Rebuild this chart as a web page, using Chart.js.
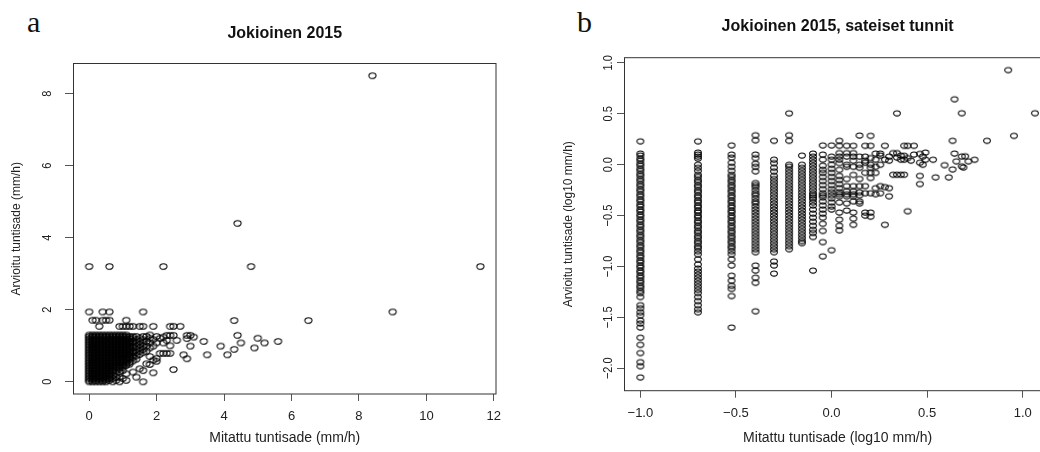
<!DOCTYPE html>
<html>
<head>
<meta charset="utf-8">
<script src="https://cdn.jsdelivr.net/npm/chart.js@4/dist/chart.umd.min.js"></script>
<style>
  body { margin: 0; background: #fff; }
  #wrap { position: relative; width: 1040px; height: 452px; overflow: hidden; background: #fff; }
  .tag { position: absolute; top: 7px; font: 30px/30px "Liberation Serif", "Times New Roman", serif; color: #111; }
  .panel { position: absolute; top: 0; }
</style>
</head>
<body>
<div id="wrap">
  <div class="tag" style="left:27px">a</div>
  <div class="tag" style="left:577px">b</div>
  <div class="panel" style="left:0"><canvas id="chartA" width="520" height="452"></canvas></div>
  <div class="panel" style="left:520px"><canvas id="chartB" width="560" height="452"></canvas></div>
</div>
<script>
// ---- Panel a: measured vs estimated hourly rain (mm/h), one list of estimates per measured value
const aMeasured = [0, 0.1, 0.2, 0.3, 0.4, 0.5, 0.6, 0.7, 0.8, 0.9, 1.0, 1.1, 1.2, 1.3, 1.4, 1.5, 1.6, 1.7, 1.8, 1.9,
  2.0, 2.1, 2.2, 2.3, 2.4, 2.5, 2.6, 2.7, 2.8, 2.9, 3.0, 3.1, 3.4, 3.5, 3.9, 4.1, 4.3, 4.4, 4.5, 4.8, 4.9, 5.0, 5.2, 5.6, 6.5, 8.4, 9.0, 11.6];
const aEstimated = [
  [0, 0.04, 0.09, 0.13, 0.18, 0.22, 0.27, 0.31, 0.36, 0.4, 0.45, 0.49, 0.54, 0.58, 0.63, 0.67, 0.72, 0.76, 0.81, 0.85, 0.9, 0.94, 0.99, 1.03, 1.08, 1.12, 1.17, 1.21, 1.26, 1.3, 1.94, 3.2],
  [0, 0.05, 0.09, 0.14, 0.18, 0.23, 0.27, 0.32, 0.36, 0.41, 0.45, 0.5, 0.54, 0.59, 0.63, 0.68, 0.72, 0.77, 0.81, 0.86, 0.9, 0.95, 0.99, 1.04, 1.08, 1.13, 1.17, 1.22, 1.26, 1.3, 1.71],
  [0, 0.04, 0.09, 0.13, 0.18, 0.22, 0.27, 0.31, 0.36, 0.4, 0.45, 0.49, 0.54, 0.58, 0.63, 0.67, 0.72, 0.76, 0.81, 0.85, 0.9, 0.94, 0.99, 1.03, 1.08, 1.12, 1.17, 1.21, 1.26, 1.3, 1.71],
  [0, 0.05, 0.09, 0.14, 0.18, 0.23, 0.27, 0.32, 0.36, 0.41, 0.45, 0.5, 0.54, 0.59, 0.63, 0.68, 0.72, 0.77, 0.81, 0.86, 0.9, 0.95, 0.99, 1.04, 1.08, 1.13, 1.17, 1.22, 1.26, 1.3, 1.54],
  [0, 0.04, 0.09, 0.13, 0.18, 0.22, 0.27, 0.31, 0.36, 0.4, 0.45, 0.49, 0.54, 0.58, 0.63, 0.67, 0.72, 0.76, 0.81, 0.85, 0.9, 0.94, 0.99, 1.03, 1.08, 1.12, 1.17, 1.21, 1.26, 1.3, 1.71, 1.94],
  [0, 0.05, 0.09, 0.14, 0.18, 0.23, 0.27, 0.32, 0.36, 0.41, 0.45, 0.5, 0.54, 0.59, 0.63, 0.68, 0.72, 0.77, 0.81, 0.86, 0.9, 0.95, 0.99, 1.04, 1.08, 1.13, 1.17, 1.22, 1.26, 1.3, 1.71],
  [0.04, 0.09, 0.13, 0.18, 0.22, 0.27, 0.31, 0.36, 0.4, 0.45, 0.49, 0.54, 0.58, 0.63, 0.67, 0.72, 0.76, 0.81, 0.85, 0.9, 0.94, 0.99, 1.03, 1.08, 1.12, 1.17, 1.21, 1.26, 1.3, 1.71, 1.94, 3.2],
  [0, 0.09, 0.18, 0.27, 0.31, 0.36, 0.4, 0.45, 0.49, 0.54, 0.58, 0.63, 0.67, 0.72, 0.76, 0.81, 0.85, 0.9, 0.94, 0.99, 1.03, 1.08, 1.12, 1.17, 1.21, 1.26, 1.3],
  [0.04, 0.13, 0.22, 0.31, 0.4, 0.45, 0.49, 0.54, 0.58, 0.63, 0.67, 0.72, 0.76, 0.81, 0.85, 0.9, 0.94, 0.99, 1.03, 1.08, 1.12, 1.17, 1.21, 1.26, 1.3],
  [0, 0.13, 0.27, 0.36, 0.4, 0.45, 0.49, 0.54, 0.58, 0.63, 0.67, 0.72, 0.76, 0.81, 0.85, 0.9, 0.94, 0.99, 1.03, 1.08, 1.12, 1.17, 1.21, 1.26, 1.3, 1.54],
  [0.09, 0.31, 0.4, 0.45, 0.49, 0.54, 0.58, 0.63, 0.67, 0.72, 0.76, 0.81, 0.85, 0.9, 0.94, 0.99, 1.03, 1.08, 1.12, 1.17, 1.21, 1.26, 1.3, 1.54],
  [0.04, 0.22, 0.45, 0.49, 0.54, 0.58, 0.63, 0.67, 0.72, 0.76, 0.81, 0.85, 0.9, 0.94, 0.99, 1.03, 1.08, 1.12, 1.17, 1.21, 1.26, 1.3, 1.54, 1.71],
  [0.49, 0.54, 0.63, 0.67, 0.72, 0.76, 0.81, 0.85, 0.9, 0.94, 0.99, 1.03, 1.08, 1.12, 1.17, 1.21, 1.26, 1.54],
  [0.27, 0.58, 0.67, 0.72, 0.81, 0.85, 0.94, 0.99, 1.08, 1.12, 1.21, 1.26, 1.54],
  [0.13, 0.63, 0.72, 0.81, 0.9, 0.99, 1.08, 1.17, 1.26],
  [0.36, 0.76, 0.85, 0.94, 1.03, 1.12, 1.21, 1.54],
  [0, 0.31, 0.81, 0.9, 0.99, 1.08, 1.17, 1.26, 1.54, 1.94],
  [0.5, 0.85, 0.99, 1.12, 1.26],
  [0.48, 0.7, 0.94, 1.08, 1.21, 1.3],
  [0.25, 0.6, 0.99, 1.17, 1.54],
  [0.57, 0.65, 1.08, 1.26],
  [0.79, 1.21],
  [0.79, 1.08, 1.24, 3.2],
  [0.79, 1.15, 1.29],
  [0.79, 1.0, 1.29, 1.54],
  [0.34, 1.29, 1.54],
  [1.15],
  [1.54],
  [0.75],
  [0.64, 1.2, 1.29],
  [0.99, 1.29],
  [1.24],
  [1.12],
  [0.75],
  [0.99],
  [0.75],
  [0.9, 1.7],
  [1.29, 4.4],
  [1.08],
  [3.2],
  [0.94],
  [1.21],
  [1.08],
  [1.12],
  [1.7],
  [8.5],
  [1.94],
  [3.2]
];
const aTicksX = [0, 2, 4, 6, 8, 10, 12];
const aTicksY = [0, 2, 4, 6, 8];

// ---- Panel b: rainy hours only, log10 of both
const bMeasured = [-1, -0.699, -0.523, -0.398, -0.301, -0.222, -0.155, -0.097, -0.046, 0, 0.041, 0.079, 0.114, 0.146, 0.176,
  0.204, 0.23, 0.255, 0.279, 0.301, 0.322, 0.342, 0.362, 0.38, 0.398, 0.415, 0.431, 0.462, 0.477, 0.491, 0.531, 0.544,
  0.591, 0.613, 0.633, 0.643, 0.653, 0.681, 0.69, 0.699, 0.716, 0.748, 0.813, 0.924, 0.954, 1.064];
const bEstimated = [
  [0.23, 0.11, 0.09, 0.06, 0.04, 0.01, -0.01, -0.04, -0.06, -0.09, -0.11, -0.14, -0.16, -0.19, -0.21, -0.24, -0.26, -0.29, -0.31, -0.34,
   -0.36, -0.39, -0.41, -0.44, -0.46, -0.49, -0.51, -0.54, -0.56, -0.59, -0.61, -0.64, -0.66, -0.69, -0.71, -0.74, -0.76, -0.79, -0.81,
   -0.84, -0.86, -0.89, -0.91, -0.94, -0.96, -0.99, -1.01, -1.04, -1.06, -1.09, -1.11, -1.14, -1.16, -1.19, -1.21, -1.24, -1.26, -1.3,
   -1.38, -1.41, -1.45, -1.48, -1.53, -1.56, -1.6, -1.7, -1.77, -1.85, -1.94, -1.98, -2.09],
  [0.23, 0.12, 0.1, 0.08, 0.06, 0.0, -0.03, -0.06, -0.1, -0.12, -0.15, -0.17, -0.2, -0.22, -0.25, -0.27, -0.3, -0.32, -0.35, -0.37, -0.4,
   -0.42, -0.45, -0.47, -0.5, -0.52, -0.55, -0.57, -0.6, -0.62, -0.65, -0.67, -0.7, -0.72, -0.75, -0.77, -0.8, -0.82, -0.85, -0.88, -0.93,
   -0.98, -1.02, -1.05, -1.08, -1.11, -1.14, -1.17, -1.2, -1.23, -1.26, -1.3, -1.34, -1.38, -1.42, -1.45],
  [0.19, 0.1, 0.07, 0.02, -0.02, -0.06, -0.1, -0.12, -0.15, -0.17, -0.2, -0.22, -0.25, -0.27, -0.3, -0.32, -0.35, -0.37, -0.4, -0.42,
   -0.45, -0.47, -0.5, -0.52, -0.55, -0.57, -0.6, -0.62, -0.65, -0.67, -0.7, -0.72, -0.75, -0.77, -0.8, -0.82, -0.85, -0.88, -0.93,
   -0.99, -1.09, -1.14, -1.19, -1.22, -1.29, -1.6],
  [0.29, 0.24, 0.1, 0.065, 0.01, -0.02, -0.065, -0.18, -0.2, -0.22, -0.25, -0.28, -0.3, -0.33, -0.36, -0.38, -0.41, -0.44, -0.47, -0.5,
   -0.53, -0.56, -0.59, -0.62, -0.65, -0.68, -0.71, -0.74, -0.77, -0.8, -0.83, -0.86, -0.99, -1.04, -1.11, -1.16, -1.44],
  [0.235, 0.05, 0.016, -0.03, -0.065, -0.11, -0.14, -0.17, -0.2, -0.23, -0.26, -0.29, -0.32, -0.35, -0.38, -0.41, -0.44, -0.47, -0.5,
   -0.53, -0.56, -0.59, -0.62, -0.65, -0.68, -0.71, -0.74, -0.77, -0.8, -0.83, -0.86, -0.95, -0.99, -1.07],
  [0.505, 0.29, 0.235, 0.0, -0.02, -0.05, -0.08, -0.11, -0.14, -0.17, -0.2, -0.23, -0.26, -0.29, -0.32, -0.35, -0.38, -0.41, -0.44,
   -0.47, -0.5, -0.53, -0.56, -0.59, -0.62, -0.65, -0.68, -0.71, -0.74, -0.77, -0.8, -0.83],
  [0.09, 0.0, -0.03, -0.06, -0.09, -0.12, -0.15, -0.18, -0.21, -0.24, -0.27, -0.3, -0.33, -0.36, -0.39, -0.42, -0.45, -0.48, -0.51,
   -0.54, -0.57, -0.6, -0.63, -0.66, -0.69, -0.72, -0.75, -0.77],
  [0.11, 0.08, 0.05, 0.02, -0.01, -0.04, -0.07, -0.1, -0.13, -0.16, -0.19, -0.22, -0.25, -0.28, -0.3, -0.32, -0.34, -0.37, -0.4,
   -0.44, -0.48, -0.52, -0.56, -0.6, -0.64, -0.67, -0.71, -1.04],
  [0.19, 0.1, 0.05, -0.01, -0.05, -0.08, -0.12, -0.16, -0.2, -0.24, -0.28, -0.3, -0.32, -0.36, -0.4, -0.44, -0.48, -0.52, -0.58, -0.65, -0.76, -0.9],
  [0.19, 0.08, 0.05, 0.0, -0.04, -0.08, -0.12, -0.16, -0.2, -0.24, -0.27, -0.3, -0.33, -0.37, -0.41, -0.44, -0.84],
  [0.235, 0.186, 0.114, 0.08, 0.05, 0.016, -0.05, -0.11, -0.15, -0.19, -0.23, -0.27, -0.29, -0.31, -0.37, -0.47, -0.54, -0.6, -0.645],
  [0.186, 0.114, 0.08, 0.0, -0.02, -0.14, -0.21, -0.26, -0.29, -0.31, -0.38, -0.45],
  [0.186, 0.114, 0.08, 0.04, -0.02, -0.1, -0.21, -0.26, -0.29, -0.31, -0.36, -0.47, -0.53, -0.59],
  [0.287, 0.08, 0.0, -0.03, -0.14, -0.21, -0.27, -0.3, -0.36, -0.38],
  [0.186, 0.08, 0.04, 0.02, -0.08, -0.21, -0.28, -0.47, -0.5],
  [0.284, 0.186, 0.065, 0.0, -0.03, -0.08, -0.13, -0.28, -0.47, -0.51],
  [0.11, 0.05, -0.02, -0.08, -0.23, -0.29],
  [0.11, 0.09, 0.0, -0.21, -0.28],
  [0.186, 0.05, -0.22, -0.59],
  [0.08, 0.04, -0.23, -0.31],
  [0.114, -0.098],
  [0.505, 0.114, 0.07, -0.098],
  [0.09, 0.05, -0.098],
  [0.186, 0.088, 0.05, -0.098],
  [0.186, 0.065, -0.457],
  [0.04],
  [0.186, 0.1],
  [0.107, 0.02, -0.11, -0.19],
  [0.08, 0.0],
  [0.12, 0.05],
  [0.049],
  [-0.124],
  [-0.004],
  [-0.124],
  [0.235, -0.046],
  [0.643, 0.11],
  [0.033],
  [0.506, 0.081, -0.016],
  [-0.027],
  [0.083],
  [0.033],
  [0.049],
  [0.235],
  [0.93],
  [0.284],
  [0.506]
];
const bTicksX = [-1.0, -0.5, 0.0, 0.5, 1.0];
const bTicksY = [-2.0, -1.5, -1.0, -0.5, 0.0, 0.5, 1.0];

Chart.defaults.font.family = '"Liberation Sans", Arial, Helvetica, sans-serif';
Chart.defaults.color = '#222';

// open ellipse marker (the original figure is stretched sideways)
function ring(rx, ry) {
    const c = document.createElement('canvas');
    c.width = Math.ceil(rx * 2 + 3);
    c.height = Math.ceil(ry * 2 + 3);
    const g = c.getContext('2d');
    g.strokeStyle = '#000';
    g.lineWidth = 1.05;
    g.beginPath();
    g.ellipse(c.width / 2, c.height / 2, rx, ry, 0, 0, Math.PI * 2);
    g.stroke();
    return c;
}

function toPoints(xs, ys) {
    return xs.flatMap((x, i) => ys[i].map(y => ({ x: x, y: y })));
}

function minusSign(v, digits) {
    return v.toFixed(digits).replace('-', '\u2212');
}

// box round the plot area + y tick labels turned 90 degrees, R style
const boxAndYLabels = {
    id: 'boxAndYLabels',
    afterDraw(chart, args, opts) {
        const { ctx, chartArea: a } = chart;
        const y = chart.scales.y;
        ctx.save();
        ctx.strokeStyle = '#333';
        ctx.lineWidth = 1;
        ctx.strokeRect(a.left, a.top, a.right - a.left, a.bottom - a.top);
        ctx.fillStyle = '#222';
        ctx.font = '13px "Liberation Sans", Arial, sans-serif';
        ctx.textAlign = 'center';
        ctx.textBaseline = 'middle';
        y.ticks.forEach(t => {
            ctx.save();
            ctx.translate(opts.labelX, y.getPixelForValue(t.value));
            ctx.rotate(-Math.PI / 2);
            ctx.scale(0.85, 1);
            ctx.fillText(t.label, 0, 0);
            ctx.restore();
        });
        ctx.restore();
    }
};

function panel(canvasId, cfg) {
    return new Chart(document.getElementById(canvasId), {
        type: 'scatter',
        data: {
            datasets: [{
                data: cfg.points,
                pointStyle: cfg.marker,
                pointRadius: 4,
                showLine: false
            }]
        },
        options: {
            responsive: false,
            animation: false,
            layout: { padding: cfg.padding },
            plugins: {
                legend: { display: false },
                tooltip: { enabled: false },
                title: {
                    display: true,
                    text: cfg.title,
                    fullSize: false,
                    color: '#111',
                    font: { size: 16, weight: 'bold' },
                    padding: cfg.titlePad
                },
                boxAndYLabels: { labelX: cfg.yLabelX }
            },
            scales: {
                x: {
                    type: 'linear',
                    min: cfg.xMin,
                    max: cfg.xMax,
                    afterBuildTicks: s => { s.ticks = cfg.xTicks.map(v => ({ value: v })); },
                    afterFit: s => { s.height = cfg.xHeight; },
                    border: { display: false },
                    grid: { drawOnChartArea: false, drawTicks: true, tickLength: 7, color: '#555' },
                    ticks: {
                        font: { size: 13 },
                        padding: cfg.xTickPad,
                        maxRotation: 0,
                        autoSkip: false,
                        callback: cfg.fmt
                    },
                    title: {
                        display: true,
                        text: cfg.xTitle,
                        font: { size: 14 },
                        padding: { top: 0, bottom: 5.6 }
                    }
                },
                y: {
                    type: 'linear',
                    min: cfg.yMin,
                    max: cfg.yMax,
                    afterBuildTicks: s => { s.ticks = cfg.yTicks.map(v => ({ value: v })); },
                    afterFit: s => { s.width = cfg.yWidth; },
                    border: { display: false },
                    grid: { drawOnChartArea: false, drawTicks: true, tickLength: cfg.yTickLen, color: '#555' },
                    ticks: { display: false, callback: cfg.fmt },
                    title: {
                        display: true,
                        text: cfg.yTitle,
                        font: { size: 12 },
                        padding: { top: cfg.yTitlePad, bottom: 0 }
                    }
                }
            }
        },
        plugins: [boxAndYLabels]
    });
}

panel('chartA', {
    points: toPoints(aMeasured, aEstimated),
    marker: ring(3.6, 2.8),
    title: 'Jokioinen 2015',
    titlePad: { top: 24, bottom: 20.3 },
    padding: { left: 6, right: 24, top: 0, bottom: 0 },
    xMin: -0.464, xMax: 12.064, yMin: -0.34, yMax: 8.84,
    xTicks: aTicksX, yTicks: aTicksY,
    xHeight: 58, xTickPad: 7.2,
    yWidth: 67.5, yTickLen: 8.5, yTitlePad: 3, yLabelX: 47,
    xTitle: 'Mitattu tuntisade (mm/h)',
    yTitle: 'Arvioitu tuntisade (mm/h)',
    fmt: v => String(v)
});

panel('chartB', {
    points: toPoints(bMeasured, bEstimated),
    marker: ring(3.4, 2.6),
    title: 'Jokioinen 2015, sateiset tunnit',
    titlePad: { top: 17.1, bottom: 21.4 },
    padding: { left: 40, right: 29.2, top: 0, bottom: 0 },
    xMin: -1.083, xMax: 1.147, yMin: -2.221, yMax: 1.051,
    xTicks: bTicksX, yTicks: bTicksY,
    xHeight: 61.3, xTickPad: 7.5,
    yWidth: 64.5, yTickLen: 7.5, yTitlePad: 1.8, yLabelX: 88,
    xTitle: 'Mitattu tuntisade (log10 mm/h)',
    yTitle: 'Arvioitu tuntisade (log10 mm/h)',
    fmt: v => minusSign(v, 1)
});
</script>
</body>
</html>
